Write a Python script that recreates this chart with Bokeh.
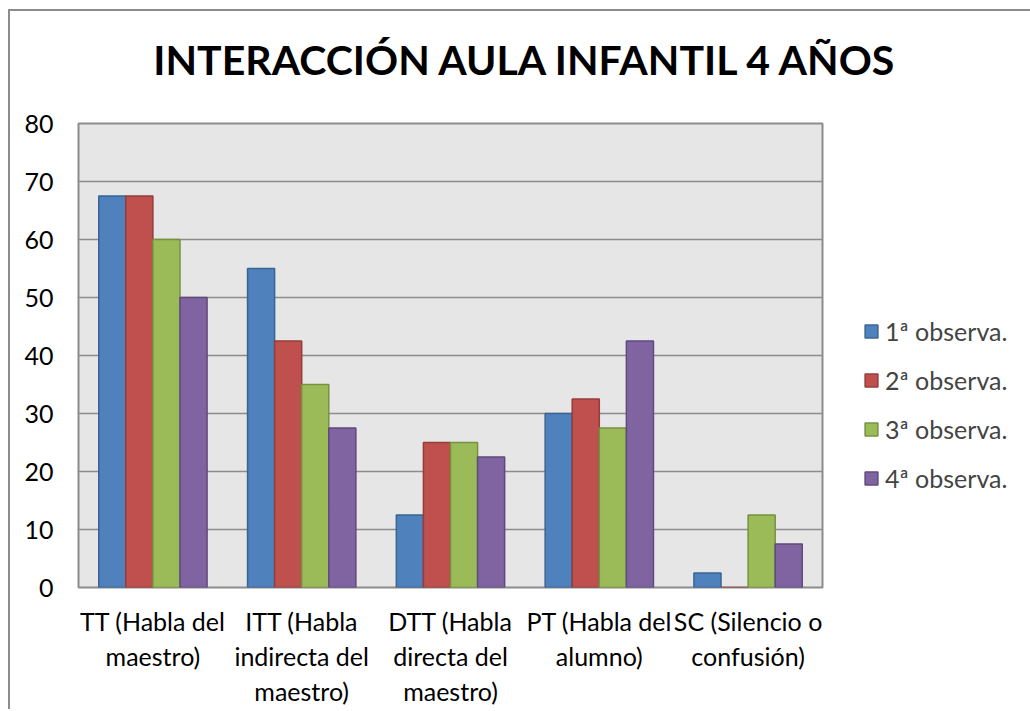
from bokeh.plotting import figure
from bokeh.models import FactorRange, Range1d, Legend, LegendItem, Label, FixedTicker
from bokeh.transform import dodge
from bokeh.embed import file_html
from bokeh.resources import INLINE

# ---- data ----
categories = [
    "TT (Habla del\nmaestro)",
    "ITT (Habla\nindirecta del\nmaestro)",
    "DTT (Habla\ndirecta del\nmaestro)",
    "PT (Habla del\nalumno)",
    "SC (Silencio o\nconfusión)",
]
series_names = ["1ª observa.", "2ª observa.", "3ª observa.", "4ª observa."]
obs1 = [67.5, 55, 12.5, 30, 2.5]
obs2 = [67.5, 42.5, 25, 32.5, 0]
obs3 = [60, 35, 25, 27.5, 12.5]
obs4 = [50, 27.5, 22.5, 42.5, 7.5]
y_ticks = [0, 10, 20, 30, 40, 50, 60, 70, 80]
title_text = "INTERACCIÓN AULA INFANTIL 4 AÑOS"

fill_colors = ["#4F81BD", "#C0504D", "#9BBB59", "#8064A2"]
line_colors = ["#3A6494", "#943D3A", "#76923F", "#5F4A7D"]

FONT = "Lato"

p = figure(
    x_range=FactorRange(*categories),
    y_range=Range1d(0, 80),
    frame_width=744, frame_height=464,
    output_backend="svg", toolbar_location=None,
    min_border_left=68, min_border_right=208,
    min_border_top=112, min_border_bottom=122,
)
p.title = None
p.styles = {"margin-left": "8px", "margin-top": "9px",
            "border-left": "2px solid #8C8C8C", "border-top": "2px solid #8C8C8C"}

p.background_fill_color = "#E6E6E6"
p.border_fill_color = "white"
p.outline_line_color = "#8C8C8C"
p.outline_line_width = 2

data = dict(cat=categories, o1=obs1, o2=obs2, o3=obs3, o4=obs4)
keys = ["o1", "o2", "o3", "o4"]
bw = 0.182
offsets = [-1.5 * bw, -0.5 * bw, 0.5 * bw, 1.5 * bw]
items = []
for k, off, fc, lc, name in zip(keys, offsets, fill_colors, line_colors, series_names):
    r = p.vbar(x=dodge("cat", off, range=p.x_range), top=k, width=bw, source=data,
               fill_color=fc, line_color=lc, line_width=1.5)
    items.append(LegendItem(label=name, renderers=[r]))

# axes
p.yaxis.ticker = FixedTicker(ticks=y_ticks)
for ax in (p.xaxis[0], p.yaxis[0]):
    ax.axis_line_color = None
    ax.major_tick_line_color = None
    ax.minor_tick_line_color = None
    ax.major_label_text_font = FONT
    ax.major_label_text_font_size = "25px"
    ax.major_label_text_color = "black"
p.yaxis.major_label_standoff = 19
p.xaxis.major_label_standoff = 12
p.xaxis.major_label_text_line_height = 1.18
p.xaxis.major_label_text_align = "center"

p.xgrid.grid_line_color = None
p.ygrid.grid_line_color = "#8C8C8C"
p.ygrid.grid_line_width = 1.5
p.ygrid.ticker = FixedTicker(ticks=y_ticks)

# title as a label in the top panel
p.add_layout(Label(x=448, y=64, x_units="screen", y_units="screen", text=title_text,
                   text_font=FONT, text_font_style="bold", text_font_size="41px",
                   text_align="center", text_baseline="alphabetic", text_color="black"),
             "above")

legend = Legend(items=items, location=(41, 94), orientation="vertical",
                glyph_width=16, glyph_height=16, label_standoff=6, spacing=19,
                label_height=29,
                label_text_font=FONT, label_text_font_size="25px",
                padding=0, margin=0, border_line_color=None, background_fill_alpha=0)
p.add_layout(legend, "right")

open("out.html", "w").write(file_html(p, INLINE))
